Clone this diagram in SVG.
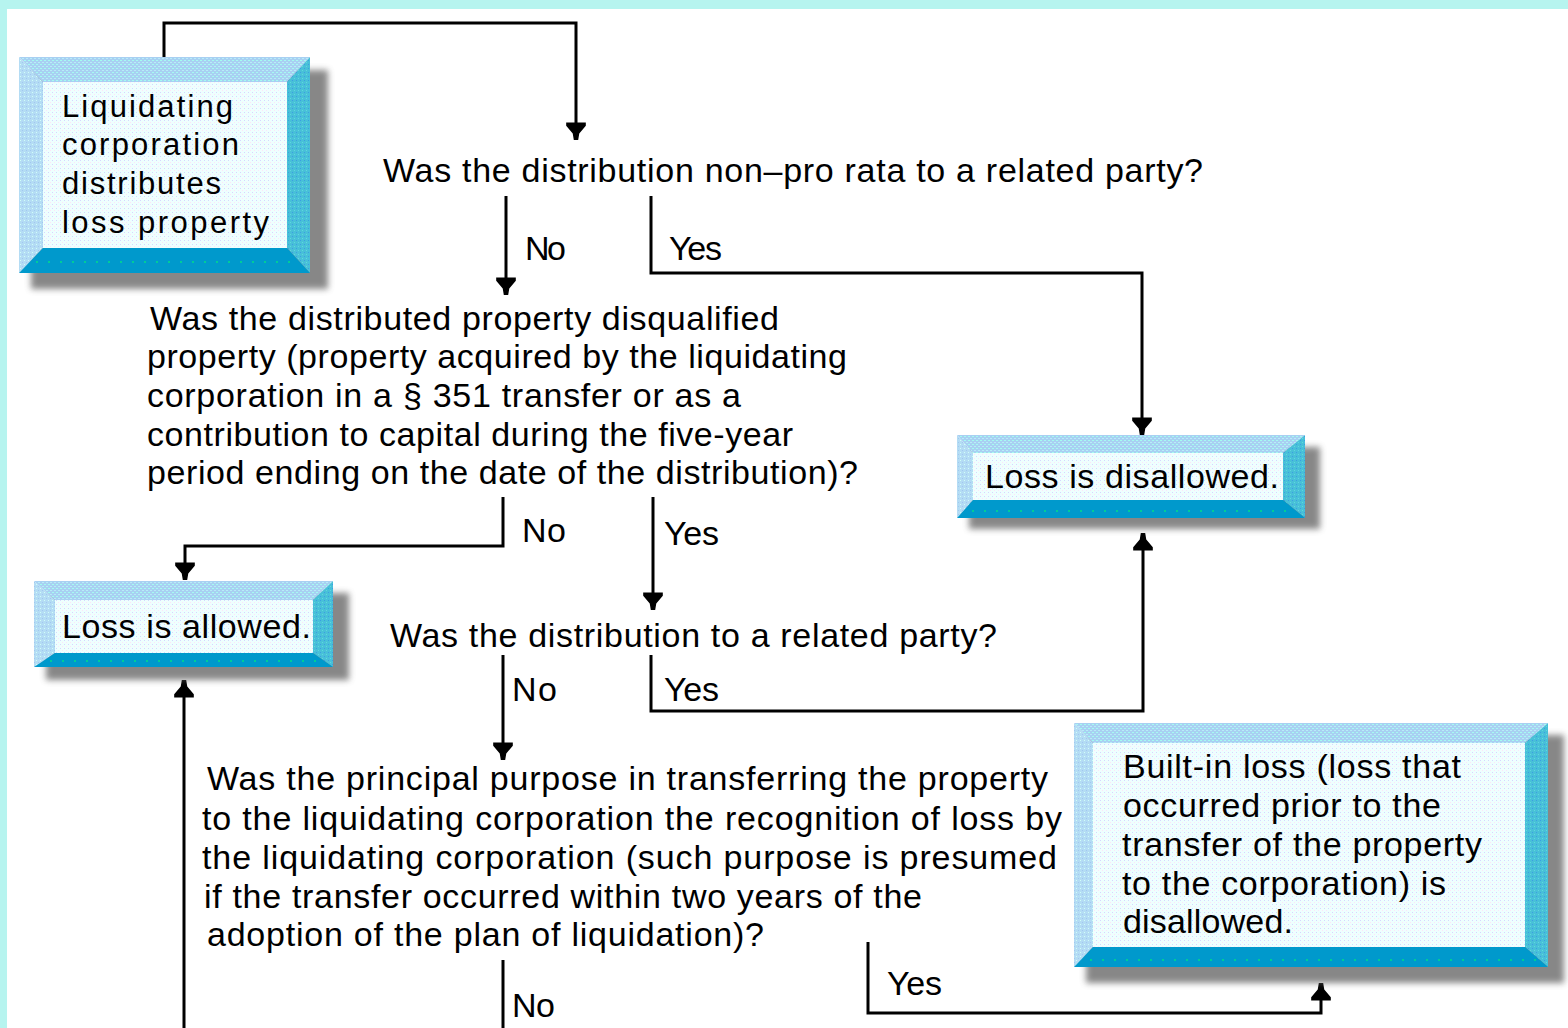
<svg xmlns="http://www.w3.org/2000/svg" width="1568" height="1028" viewBox="0 0 1568 1028">
<defs>
<style>
.t{font-family:"Liberation Sans",Arial,sans-serif;font-size:34px;fill:#000}
.b1{font-size:31px}
.c{fill:none;stroke:#000;stroke-width:3}
.sh{fill:#606060;opacity:0.75;filter:url(#blur)}
.top{fill:url(#pTop)}
.left{fill:url(#pLeft)}
.right{fill:url(#pRight)}
.bot{fill:#0099cc}
.in{fill:url(#pIn)}
.dots{stroke:#00cc99;stroke-width:2;stroke-dasharray:2 10;fill:none}
</style>
<filter id="blur" x="-10%" y="-10%" width="120%" height="120%"><feGaussianBlur stdDeviation="3"/></filter>
<pattern id="pIn" width="4" height="4" patternUnits="userSpaceOnUse"><rect width="4" height="4" fill="#eefffe"/><rect x="0" y="0" width="1" height="1" fill="#d4d8ff"/><rect x="2" y="2" width="1" height="1" fill="#ffe4f8"/></pattern>
<pattern id="pTop" width="4" height="4" patternUnits="userSpaceOnUse"><rect width="4" height="4" fill="#a8d0f2"/><rect x="0" y="0" width="2" height="1" fill="#a4fcf0"/><rect x="2" y="2" width="2" height="1" fill="#b8ecf8"/></pattern>
<pattern id="pLeft" width="4" height="4" patternUnits="userSpaceOnUse"><rect width="4" height="4" fill="#b4dcf4"/><rect x="0" y="0" width="1" height="1" fill="#d0fff8"/><rect x="2" y="2" width="1" height="1" fill="#a0c8f0"/></pattern>
<pattern id="pRight" width="4" height="4" patternUnits="userSpaceOnUse"><rect width="4" height="4" fill="#48c0d8"/><rect x="0" y="0" width="1" height="1" fill="#3c9ce4"/><rect x="2" y="2" width="1" height="1" fill="#60d8e0"/></pattern>
<marker id="ah" markerUnits="userSpaceOnUse" markerWidth="24" markerHeight="24" viewBox="-20 -10 22 20" refX="0" refY="0" orient="auto">
<path d="M0,-2 L0,2 L-6,3 L-13,9 L-16,9 L-16,-9 L-13,-9 L-6,-3 Z" fill="#000"/>
</marker>
</defs>
<rect x="0" y="0" width="1568" height="1028" fill="#b6f4ef"/>
<rect x="7" y="9" width="1561" height="1019" fill="#ffffff"/>

<g id="connectors">
<path class="c" d="M164,57 V23 H576 V140" marker-end="url(#ah)"/>
<path class="c" d="M506,196 V295" marker-end="url(#ah)"/>
<path class="c" d="M651,196 V273 H1142 V435" marker-end="url(#ah)"/>
<path class="c" d="M503,497 V546 H185 V580" marker-end="url(#ah)"/>
<path class="c" d="M653,497 V610" marker-end="url(#ah)"/>
<path class="c" d="M503,655 V760" marker-end="url(#ah)"/>
<path class="c" d="M651,655 V711 H1143 V533" marker-end="url(#ah)"/>
<path class="c" d="M184,1028 V680" marker-end="url(#ah)"/>
<path class="c" d="M868,942 V1013 H1321 V983" marker-end="url(#ah)"/>
<path class="c" d="M503,960 V1028"/>
</g>

<g id="box-start">
<rect class="sh" x="31" y="70" width="297" height="219"/>
<polygon class="top" points="19,57 310,57 287,82 43,82"/>
<polygon class="left" points="19,57 43,82 43,248 19,273"/>
<polygon class="right" points="310,57 310,273 287,248 287,82"/>
<polygon class="bot" points="19,273 43,248 287,248 310,273"/>
<line class="dots" x1="36" y1="262" x2="300" y2="262"/>
<rect class="in" x="43" y="82" width="244" height="166"/>
<text class="t b1" x="62" y="117" textLength="171" lengthAdjust="spacing">Liquidating</text>
<text class="t b1" x="62" y="155" textLength="177" lengthAdjust="spacing">corporation</text>
<text class="t b1" x="62" y="194" textLength="159" lengthAdjust="spacing">distributes</text>
<text class="t b1" x="62" y="233" textLength="207" lengthAdjust="spacing">loss property</text>
</g>

<g id="q1">
<text class="t" x="383" y="182" textLength="820" lengthAdjust="spacing">Was the distribution non–pro rata to a related party?</text>
<text class="t" x="525" y="260" textLength="41" lengthAdjust="spacing">No</text>
<text class="t" x="669" y="260" textLength="53" lengthAdjust="spacing">Yes</text>
</g>

<g id="box-disallowed">
<rect class="sh" x="969" y="447" width="351" height="82"/>
<polygon class="top" points="957,435 1305,435 1283,453 973,453"/>
<polygon class="left" points="957,435 973,453 973,500 957,518"/>
<polygon class="right" points="1305,435 1305,518 1283,500 1283,453"/>
<polygon class="bot" points="957,518 973,500 1283,500 1305,518"/>
<line class="dots" x1="972" y1="511" x2="1296" y2="511"/>
<rect class="in" x="973" y="453" width="310" height="47"/>
<text class="t" x="985" y="488" textLength="294" lengthAdjust="spacing">Loss is disallowed.</text>
</g>

<g id="q2">
<text class="t" x="150" y="330" textLength="629" lengthAdjust="spacing">Was the distributed property disqualified</text>
<text class="t" x="147" y="368" textLength="700" lengthAdjust="spacing">property (property acquired by the liquidating</text>
<text class="t" x="147" y="407" textLength="594" lengthAdjust="spacing">corporation in a § 351 transfer or as a</text>
<text class="t" x="147" y="446" textLength="646" lengthAdjust="spacing">contribution to capital during the five-year</text>
<text class="t" x="147" y="484" textLength="711" lengthAdjust="spacing">period ending on the date of the distribution)?</text>
<text class="t" x="522" y="542" textLength="44" lengthAdjust="spacing">No</text>
<text class="t" x="664" y="545" textLength="55" lengthAdjust="spacing">Yes</text>
</g>

<g id="box-allowed">
<rect class="sh" x="46" y="593" width="303" height="87"/>
<polygon class="top" points="34,581 333,581 313,600 55,600"/>
<polygon class="left" points="34,581 55,600 55,653 34,667"/>
<polygon class="right" points="333,581 333,667 313,653 313,600"/>
<polygon class="bot" points="34,667 55,653 313,653 333,667"/>
<line class="dots" x1="50" y1="661" x2="326" y2="661"/>
<rect class="in" x="55" y="600" width="258" height="53"/>
<text class="t" x="62" y="638" textLength="249" lengthAdjust="spacing">Loss is allowed.</text>
</g>

<g id="q3">
<text class="t" x="390" y="647" textLength="607" lengthAdjust="spacing">Was the distribution to a related party?</text>
<text class="t" x="512" y="701" textLength="45" lengthAdjust="spacing">No</text>
<text class="t" x="664" y="701" textLength="55" lengthAdjust="spacing">Yes</text>
</g>

<g id="q4">
<text class="t" x="207" y="790" textLength="841" lengthAdjust="spacing">Was the principal purpose in transferring the property</text>
<text class="t" x="202" y="830" textLength="860" lengthAdjust="spacing">to the liquidating corporation the recognition of loss by</text>
<text class="t" x="202" y="869" textLength="855" lengthAdjust="spacing">the liquidating corporation (such purpose is presumed</text>
<text class="t" x="204" y="908" textLength="718" lengthAdjust="spacing">if the transfer occurred within two years of the</text>
<text class="t" x="207" y="946" textLength="557" lengthAdjust="spacing">adoption of the plan of liquidation)?</text>
<text class="t" x="887" y="995" textLength="55" lengthAdjust="spacing">Yes</text>
<text class="t" x="512" y="1017" textLength="43" lengthAdjust="spacing">No</text>
</g>

<g id="box-builtin">
<rect class="sh" x="1086" y="735" width="478" height="248"/>
<polygon class="top" points="1074,723 1548,723 1525,743 1093,743"/>
<polygon class="left" points="1074,723 1093,743 1093,947 1074,967"/>
<polygon class="right" points="1548,723 1548,967 1525,947 1525,743"/>
<polygon class="bot" points="1074,967 1093,947 1525,947 1548,967"/>
<line class="dots" x1="1090" y1="960" x2="1540" y2="960"/>
<rect class="in" x="1093" y="743" width="432" height="204"/>
<text class="t" x="1123" y="778" textLength="338" lengthAdjust="spacing">Built-in loss (loss that</text>
<text class="t" x="1123" y="817" textLength="318" lengthAdjust="spacing">occurred prior to the</text>
<text class="t" x="1122" y="856" textLength="360" lengthAdjust="spacing">transfer of the property</text>
<text class="t" x="1122" y="895" textLength="324" lengthAdjust="spacing">to the corporation) is</text>
<text class="t" x="1123" y="933" textLength="170" lengthAdjust="spacing">disallowed.</text>
</g>
</svg>
